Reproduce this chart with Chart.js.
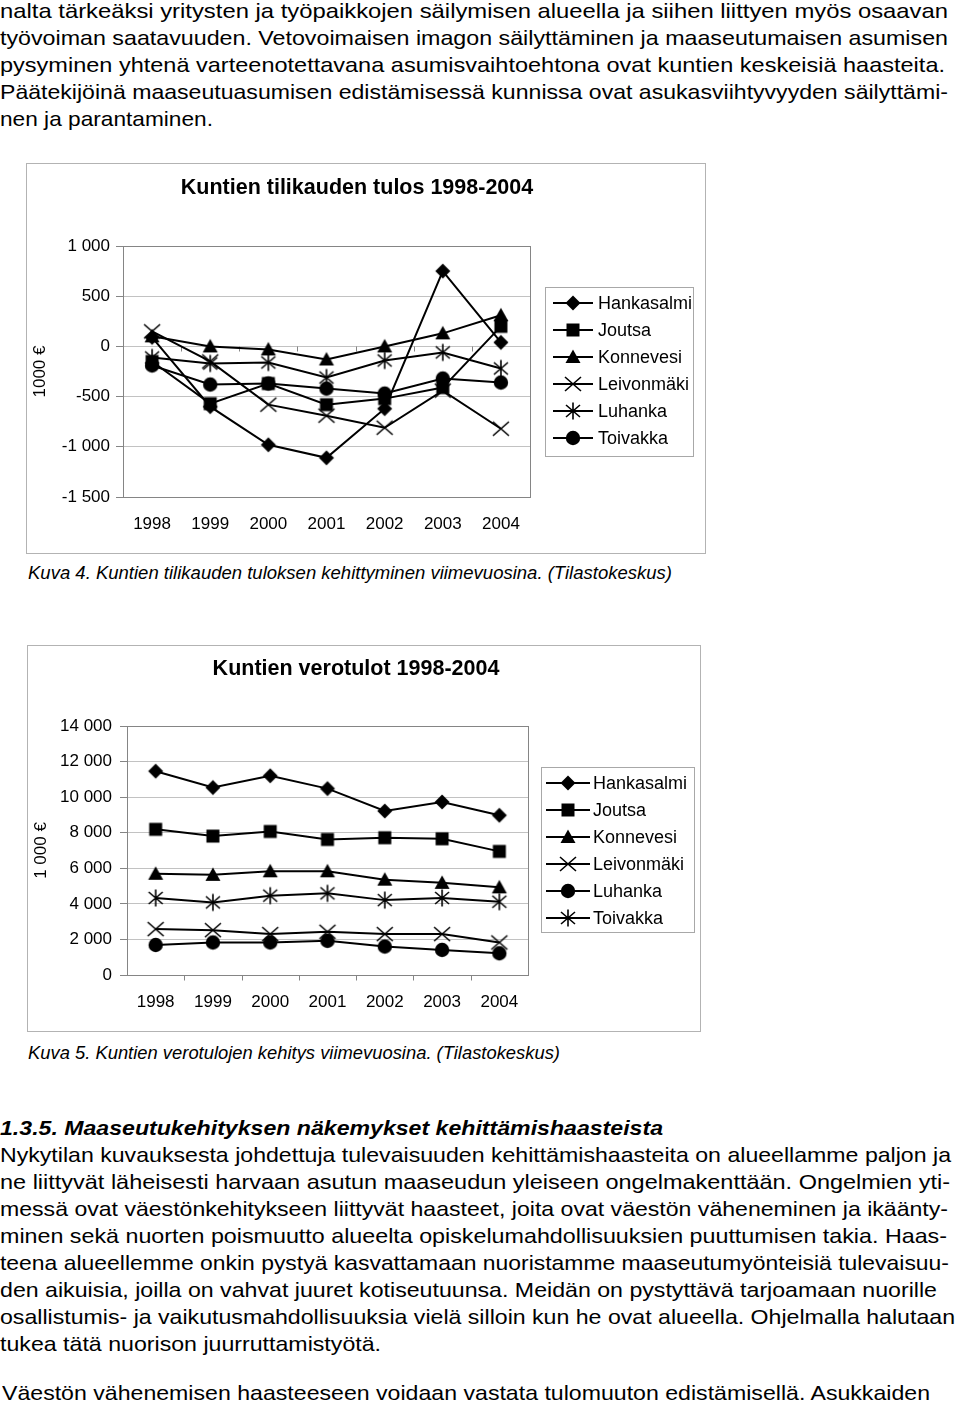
<!DOCTYPE html>
<html>
<head>
<meta charset="utf-8">
<script src="https://cdn.jsdelivr.net/npm/chart.js@4.4.1/dist/chart.umd.min.js"></script>
<style>
  body { margin: 0; background: #fff; }
  #page { position: relative; width: 960px; height: 1403px; overflow: hidden; font-family: "Liberation Sans", Arial, sans-serif; color: #000; }
  .ln { position: absolute; left: 0; white-space: nowrap; font-size: 21px; line-height: 27px; transform-origin: 0 0; }
  .cap { font-size: 19px; font-style: italic; }
  .head { font-weight: bold; font-style: italic; }
  .frame { position: absolute; border: 1px solid #b3b3b3; box-sizing: border-box; }
  .frame canvas { display: block; }
</style>
</head>
<body>
<div id="page">
  <div class="ln" style="top:-3px" data-r="948">nalta tärkeäksi yritysten ja työpaikkojen säilymisen alueella ja siihen liittyen myös osaavan</div>
  <div class="ln" style="top:24px" data-r="948">työvoiman saatavuuden. Vetovoimaisen imagon säilyttäminen ja maaseutumaisen asumisen</div>
  <div class="ln" style="top:51px" data-r="945">pysyminen yhtenä varteenotettavana asumisvaihtoehtona ovat kuntien keskeisiä haasteita.</div>
  <div class="ln" style="top:78px" data-r="948">Päätekijöinä maaseutuasumisen edistämisessä kunnissa ovat asukasviihtyvyyden säilyttämi-</div>
  <div class="ln" style="top:105px" data-r="213">nen ja parantaminen.</div>

  <div class="frame" style="left:26px;top:163px;width:680px;height:391px">
    <canvas id="tulosChart" width="678" height="389"></canvas>
  </div>
  <div class="ln cap" style="top:559px;left:28px" data-x="28" data-r="672">Kuva 4. Kuntien tilikauden tuloksen kehittyminen viimevuosina. (Tilastokeskus)</div>

  <div class="frame" style="left:27px;top:645px;width:674px;height:387px">
    <canvas id="veroChart" width="672" height="385"></canvas>
  </div>
  <div class="ln cap" style="top:1039px;left:28px" data-x="28" data-r="560">Kuva 5. Kuntien verotulojen kehitys viimevuosina. (Tilastokeskus)</div>

  <div class="ln head" style="top:1114px" data-r="663">1.3.5. Maaseutukehityksen näkemykset kehittämishaasteista</div>
  <div class="ln" style="top:1141px" data-r="951">Nykytilan kuvauksesta johdettuja tulevaisuuden kehittämishaasteita on alueellamme paljon ja</div>
  <div class="ln" style="top:1168px" data-r="950">ne liittyvät läheisesti harvaan asutun maaseudun yleiseen ongelmakenttään. Ongelmien yti-</div>
  <div class="ln" style="top:1195px" data-r="948">messä ovat väestönkehitykseen liittyvät haasteet, joita ovat väestön väheneminen ja ikäänty-</div>
  <div class="ln" style="top:1222px" data-r="947">minen sekä nuorten poismuutto alueelta opiskelumahdollisuuksien puuttumisen takia. Haas-</div>
  <div class="ln" style="top:1249px" data-r="949">teena alueellemme onkin pystyä kasvattamaan nuoristamme maaseutumyönteisiä tulevaisuu-</div>
  <div class="ln" style="top:1276px" data-r="937">den aikuisia, joilla on vahvat juuret kotiseutuunsa. Meidän on pystyttävä tarjoamaan nuorille</div>
  <div class="ln" style="top:1303px" data-r="955">osallistumis- ja vaikutusmahdollisuuksia vielä silloin kun he ovat alueella. Ohjelmalla halutaan</div>
  <div class="ln" style="top:1330px" data-r="381">tukea tätä nuorison juurruttamistyötä.</div>
  <div class="ln" style="top:1379px;left:2px" data-x="2" data-r="930">Väestön vähenemisen haasteeseen voidaan vastata tulomuuton edistämisellä. Asukkaiden</div>
</div>
<script>
const years = ['1998', '1999', '2000', '2001', '2002', '2003', '2004'];
const municipalities = ['Hankasalmi', 'Joutsa', 'Konnevesi', 'Leivonmäki', 'Luhanka', 'Toivakka'];

// Kuva 4: tilikauden tulos, 1000 €
const tulosHankasalmi = [90, -600, -980, -1110, -620, 750, 40];
const tulosJoutsa = [-150, -570, -370, -580, -520, -410, 200];
const tulosKonnevesi = [100, 0, -30, -130, 0, 130, 310];
const tulosLeivonmaki = [150, -150, -580, -690, -810, -440, -820];
const tulosLuhanka = [-110, -170, -160, -310, -140, -60, -220];
const tulosToivakka = [-190, -380, -370, -420, -470, -320, -360];
const tulosAxis = [-1500, 1000, 500];

// Kuva 5: verotulot, 1 000 €
const veroHankasalmi = [11460, 10540, 11200, 10480, 9220, 9730, 8980];
const veroJoutsa = [8190, 7810, 8070, 7620, 7720, 7660, 6950];
const veroKonnevesi = [5690, 5630, 5830, 5830, 5360, 5180, 4930];
const veroLeivonmaki = [2580, 2520, 2300, 2430, 2300, 2300, 1830];
const veroLuhanka = [1690, 1830, 1830, 1920, 1600, 1410, 1220];
const veroToivakka = [4330, 4080, 4460, 4590, 4210, 4330, 4120];
const veroAxis = [0, 14000, 2000];

const family = '"Liberation Sans", Arial, sans-serif';

// Excel-like marker glyphs
function markerCanvas(kind) {
  const c = document.createElement('canvas');
  c.width = 22;
  c.height = 22;
  const g = c.getContext('2d');
  g.translate(11, 11);
  g.fillStyle = '#000';
  g.strokeStyle = '#000';
  g.lineWidth = 1.6;
  g.beginPath();
  if (kind === 'diamond') {
    g.moveTo(0, -7.5); g.lineTo(7.5, 0); g.lineTo(0, 7.5); g.lineTo(-7.5, 0); g.closePath(); g.fill();
  } else if (kind === 'square') {
    g.rect(-6.5, -6.5, 13, 13); g.fill();
  } else if (kind === 'triangle') {
    g.moveTo(0, -7.5); g.lineTo(7.5, 6); g.lineTo(-7.5, 6); g.closePath(); g.fill();
  } else if (kind === 'circle') {
    g.arc(0, 0, 7.2, 0, Math.PI * 2); g.fill();
  } else if (kind === 'x') {
    g.moveTo(-8, -7); g.lineTo(8, 7); g.moveTo(8, -7); g.lineTo(-8, 7); g.stroke();
  } else {
    g.moveTo(-7, -6); g.lineTo(7, 6); g.moveTo(7, -6); g.lineTo(-7, 6);
    g.moveTo(0, -8.5); g.lineTo(0, 8.5); g.stroke();
  }
  return c;
}
const markers = {};
['diamond', 'square', 'triangle', 'circle', 'x', 'star'].forEach((k) => { markers[k] = markerCanvas(k); });

const fmt = (v) => (v < 0 ? '-' : '') + String(Math.abs(v)).replace(/\B(?=(\d{3})+(?!\d))/g, ' ');

const plotFrame = {
  id: 'plotFrame',
  beforeDatasetsDraw(chart) {
    const { ctx, chartArea: a, scales } = chart;
    ctx.save();
    ctx.strokeStyle = '#858585';
    ctx.lineWidth = 1;
    ctx.strokeRect(Math.round(a.left) + 0.5, Math.round(a.top) + 0.5, Math.round(a.right - a.left), Math.round(a.bottom - a.top));
    // category tick marks on the zero line
    const y0 = Math.round(scales.y.getPixelForValue(0)) + 0.5;
    const n = chart.data.labels.length;
    const step = (a.right - a.left) / n;
    ctx.beginPath();
    for (let i = 1; i < n; i++) {
      const x = Math.round(a.left + i * step) + 0.5;
      ctx.moveTo(x, y0);
      ctx.lineTo(x, y0 + 5);
    }
    ctx.stroke();
    ctx.restore();
  }
};

const boxLegend = {
  id: 'boxLegend',
  afterDraw(chart, args, o) {
    const ctx = chart.ctx;
    ctx.save();
    ctx.strokeStyle = '#a8a8a8';
    ctx.lineWidth = 1;
    ctx.strokeRect(o.x + 0.5, o.y + 0.5, o.w, o.h);
    chart.data.datasets.forEach((ds, i) => {
      const y = o.rowY + i * o.gap;
      ctx.strokeStyle = '#000';
      ctx.lineWidth = 2;
      ctx.beginPath();
      ctx.moveTo(o.x1, y);
      ctx.lineTo(o.x2, y);
      ctx.stroke();
      const m = ds.pointStyle;
      ctx.drawImage(m, (o.x1 + o.x2) / 2 - m.width / 2, y - m.height / 2);
      ctx.fillStyle = '#000';
      ctx.font = '18px ' + family;
      ctx.textBaseline = 'middle';
      ctx.fillText(ds.label, o.textX, y + 1);
    });
    ctx.restore();
  }
};

function makeChart(id, o) {
  const datasets = o.series.map((values, i) => ({
    label: municipalities[i],
    data: values,
    borderColor: '#000',
    backgroundColor: '#000',
    borderWidth: 2,
    pointStyle: markers[o.markers[i]],
    pointRadius: 7,
    pointHoverRadius: 7,
    fill: false,
    tension: 0
  }));
  return new Chart(document.getElementById(id), {
    type: 'line',
    data: { labels: years, datasets },
    options: {
      responsive: false,
      animation: false,
      events: [],
      layout: { padding: { left: 0, right: o.padRight, top: 0, bottom: 1.6 } },
      plugins: {
        legend: { display: false },
        tooltip: { enabled: false },
        title: {
          display: true,
          text: o.title,
          color: '#000',
          font: { family, size: 21.5, weight: 'bold' },
          padding: o.titlePad
        },
        boxLegend: o.legend
      },
      scales: {
        x: {
          offset: true,
          grid: { display: false, drawTicks: false },
          border: { display: false },
          ticks: { color: '#000', font: { family, size: 17 }, padding: 17, maxRotation: 0, autoSkip: false }
        },
        y: {
          min: o.axis[0],
          max: o.axis[1],
          grid: { color: '#c2c2c2', tickColor: '#858585', tickLength: 7 },
          border: { display: false },
          ticks: { stepSize: o.axis[2], color: '#000', font: { family, size: 17 }, padding: o.tickPad, callback: (v) => fmt(v) },
          title: { display: true, text: o.yTitle, color: '#000', font: { family, size: 17 }, padding: { top: 3.5, bottom: 0 } },
          afterFit: (s) => { s.width = o.yWidth; }
        },
        side: {
          type: 'linear',
          position: 'right',
          grid: { display: false, drawTicks: false },
          border: { display: false },
          ticks: { display: false },
          afterFit: (s) => { s.width = o.sideWidth; }
        }
      }
    },
    plugins: [plotFrame, boxLegend]
  });
}

function scaleLines() {
  document.querySelectorAll('.ln').forEach((el) => {
    el.style.transform = 'none';
    const w = el.getBoundingClientRect().width;
    const target = Number(el.dataset.r) - Number(el.dataset.x || 0);
    el.style.transform = `scaleX(${target / w})`;
  });
}

makeChart('tulosChart', {
  title: 'Kuntien tilikauden tulos 1998-2004',
  yTitle: '1000 €',
  axis: tulosAxis,
  series: [tulosHankasalmi, tulosJoutsa, tulosKonnevesi, tulosLeivonmaki, tulosLuhanka, tulosToivakka],
  markers: ['diamond', 'square', 'triangle', 'x', 'star', 'circle'],
  padRight: 18,
  sideWidth: 157,
  yWidth: 96,
  tickPad: 6,
  titlePad: { top: 11.1, bottom: 45.1 },
  legend: { x: 518, y: 123, w: 148, h: 169, rowY: 139, gap: 27, x1: 526, x2: 566, textX: 571 }
});

makeChart('veroChart', {
  title: 'Kuntien verotulot 1998-2004',
  yTitle: '1 000 €',
  axis: veroAxis,
  series: [veroHankasalmi, veroJoutsa, veroKonnevesi, veroLeivonmaki, veroLuhanka, veroToivakka],
  markers: ['diamond', 'square', 'triangle', 'x', 'circle', 'star'],
  padRight: 16,
  sideWidth: 156,
  yWidth: 99,
  tickPad: 8,
  titlePad: { top: 10.1, bottom: 44.1 },
  legend: { x: 513, y: 121, w: 153, h: 165, rowY: 137, gap: 27, x1: 518, x2: 562, textX: 565 }
});

scaleLines();
if (document.fonts && document.fonts.ready) document.fonts.ready.then(scaleLines);
</script>
</body>
</html>
